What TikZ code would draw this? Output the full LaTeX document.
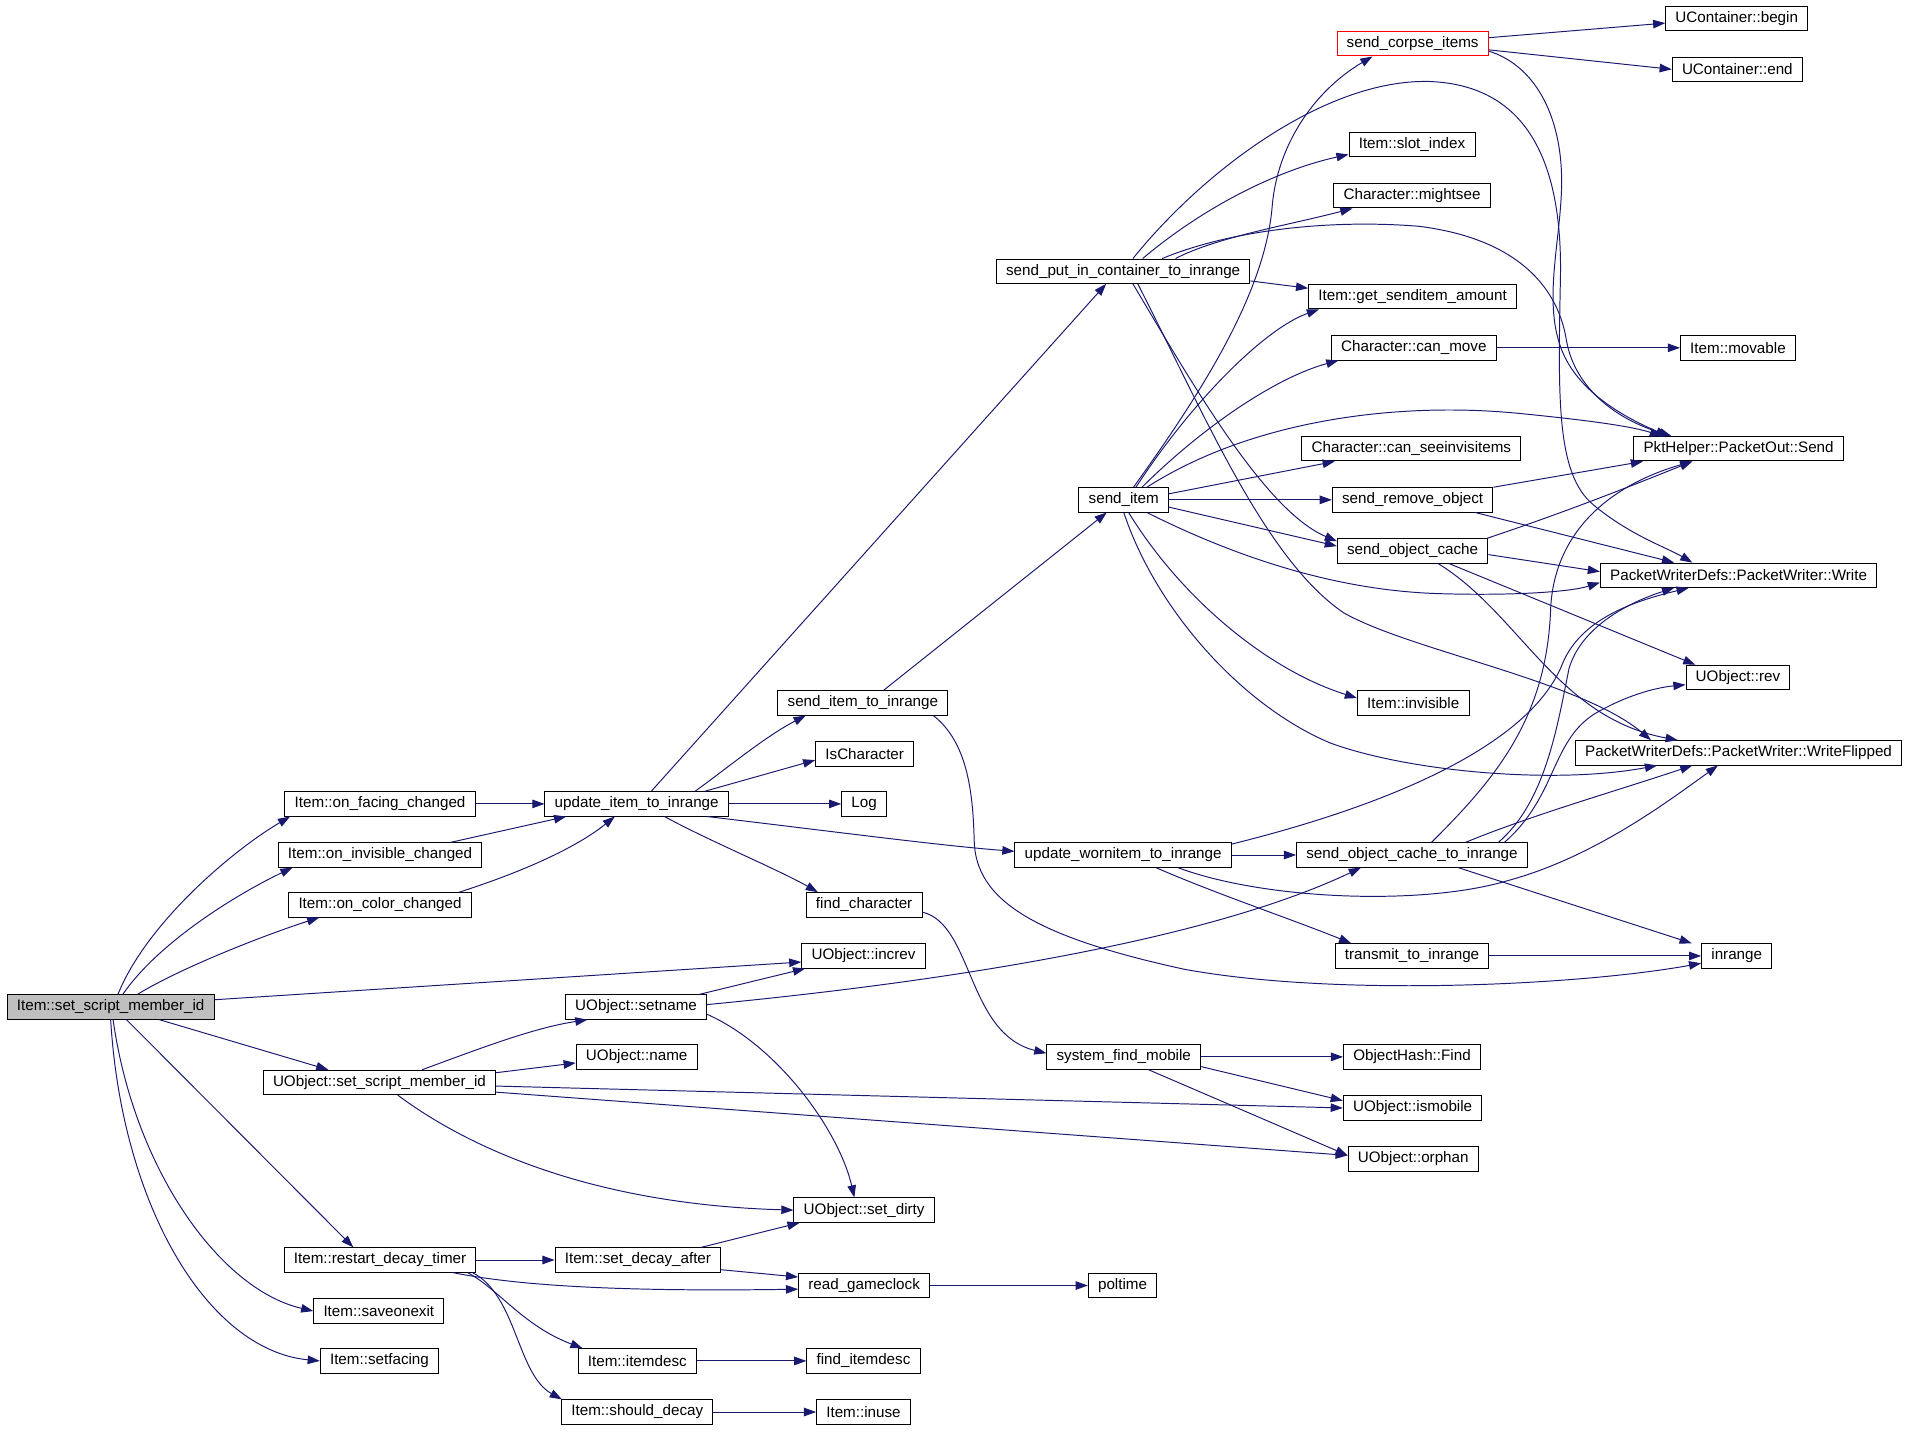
\documentclass[tikz,border=0pt]{standalone}
\usepackage{fontspec}
\setmainfont{Liberation Sans}
\usetikzlibrary{arrows.meta}
\definecolor{edgeblue}{HTML}{191970}
\tikzset{
  fn/.style={draw=black, fill=white, line width=0.8pt, minimum height=20pt,
    inner xsep=8pt, inner ysep=0pt, font=\fontsize{12.5}{14}\selectfont},
  call/.style={draw=edgeblue, line width=0.8pt, -{Triangle[length=10pt,width=7pt]}},
}
\begin{document}
\begin{tikzpicture}[x=1pt,y=-1pt]
\useasboundingbox[fill=white] (0,0) rectangle (1568,1177);
% column 1 and 2
\node[fn, fill=gray!50] (root) at (91,828) {Item::set\_script\_member\_id};
\node[fn] (onfacing) at (312.5,661) {Item::on\_facing\_changed};
\node[fn] (oninvis) at (312.5,703) {Item::on\_invisible\_changed};
\node[fn] (oncolor) at (312.5,744) {Item::on\_color\_changed};
\node[fn] (uossmi) at (312,890) {UObject::set\_script\_member\_id};
\node[fn] (restart) at (312.5,1036) {Item::restart\_decay\_timer};
\node[fn] (saveonexit) at (311.5,1078) {Item::saveonexit};
\node[fn] (setfacing) at (312,1119) {Item::setfacing};
% column 3
\node[fn] (upditem) at (523.5,661) {update\_item\_to\_inrange};
\node[fn] (setname) at (523,828) {UObject::setname};
\node[fn] (uname) at (523.5,869) {UObject::name};
\node[fn] (setdecay) at (524.5,1036) {Item::set\_decay\_after};
\node[fn] (itemdesc) at (524,1119) {Item::itemdesc};
\node[fn] (shoulddecay) at (524,1161) {Item::should\_decay};
% column 4
\node[fn] (senditr) at (709.5,578) {send\_item\_to\_inrange};
\node[fn] (ischar) at (711,620) {IsCharacter};
\node[fn] (log) at (710.5,661) {Log};
\node[fn] (findchar) at (710.5,744) {find\_character};
\node[fn] (increv) at (710,786) {UObject::increv};
\node[fn] (setdirty) at (710.5,995) {UObject::set\_dirty};
\node[fn] (readclock) at (710.5,1057) {read\_gameclock};
\node[fn] (finddesc) at (710,1119) {find\_itemdesc};
\node[fn] (inuse) at (710,1161) {Item::inuse};
% column 5
\node[fn] (putin) at (923.5,223) {send\_put\_in\_container\_to\_inrange};
\node[fn] (senditem) at (924,411) {send\_item};
\node[fn] (updworn) at (923.5,703) {update\_wornitem\_to\_inrange};
\node[fn] (sysfind) at (924,869) {system\_find\_mobile};
\node[fn] (poltime) at (923,1057) {poltime};
% column 6
\node[fn, draw=red] (corpse) at (1161.5,36) {send\_corpse\_items};
\node[fn] (slotidx) at (1161,119) {Item::slot\_index};
\node[fn] (mightsee) at (1161,161) {Character::mightsee};
\node[fn] (getamount) at (1161.5,244) {Item::get\_senditem\_amount};
\node[fn] (canmove) at (1162.5,286) {Character::can\_move};
\node[fn] (canseeinv) at (1160.5,369) {Character::can\_seeinvisitems};
\node[fn] (sendremove) at (1161.5,411) {send\_remove\_object};
\node[fn] (objcache) at (1161.5,453) {send\_object\_cache};
\node[fn] (invisible) at (1162,578) {Item::invisible};
\node[fn] (objcacheir) at (1161,703) {send\_object\_cache\_to\_inrange};
\node[fn] (transmit) at (1161,786) {transmit\_to\_inrange};
\node[fn] (ohfind) at (1161,869) {ObjectHash::Find};
\node[fn] (ismobile) at (1161.5,911) {UObject::ismobile};
\node[fn] (orphan) at (1162,953) {UObject::orphan};
% column 7
\node[fn] (cbegin) at (1428,15) {UContainer::begin};
\node[fn] (cend) at (1428.5,57) {UContainer::end};
\node[fn] (movable) at (1429,286) {Item::movable};
\node[fn] (pktsend) at (1429.5,369) {PktHelper::PacketOut::Send};
\node[fn] (pwwrite) at (1429.5,473) {PacketWriterDefs::PacketWriter::Write};
\node[fn] (urev) at (1429,557) {UObject::rev};
\node[fn] (pwflip) at (1429.5,619) {PacketWriterDefs::PacketWriter::WriteFlipped};
\node[fn] (inrange) at (1428,786) {inrange};

% calls of Item::set_script_member_id
\draw[call] ([xshift=6pt]root.north) .. controls (120,760) and (190,700) .. ([xshift=-74pt]onfacing.south);
\draw[call] ([xshift=10pt]root.north) .. controls (130,775) and (195,735) .. ([xshift=-72pt]oninvis.south);
\draw[call] ([xshift=22pt]root.north) .. controls (150,795) and (220,768) .. ([xshift=-50pt]oncolor.south);
\draw[call] ([yshift=6pt]root.east) -- ([yshift=-5pt]increv.west);
\draw[call] ([xshift=40pt]root.south) -- ([xshift=-42pt]uossmi.north);
\draw[call] ([xshift=13pt]root.south) -- ([xshift=-22pt]restart.north);
\draw[call] ([xshift=2pt]root.south) .. controls (110,960) and (180,1060) .. (saveonexit.west);
\draw[call] (root.south) .. controls (100,990) and (170,1110) .. (setfacing.west);

\draw[call] (onfacing) -- (upditem);
\draw[call] ([xshift=58pt]oninvis.north) -- ([xshift=-58pt]upditem.south);
\draw[call] ([xshift=65pt]oncolor.north) .. controls (420,720) and (470,700) .. ([xshift=-18pt]upditem.south);

% update_item_to_inrange
\draw[call] ([xshift=12pt]upditem.north) -- ([xshift=-14pt]putin.south);
\draw[call] ([xshift=48pt]upditem.north) .. controls (600,630) and (630,605) .. ([xshift=-47pt]senditr.south);
\draw[call] ([xshift=56pt]upditem.north) -- ([yshift=-5pt]ischar.west);
\draw[call] (upditem) -- (log);
\draw[call] ([xshift=58pt]upditem.south) .. controls (680,683) and (770,695) .. ([yshift=3pt]updworn.west);
\draw[call] ([xshift=23pt]upditem.south) .. controls (580,690) and (640,715) .. ([xshift=-38pt]findchar.north);

\draw[call] ([xshift=17pt]senditr.north) -- ([xshift=-14pt]senditem.south);
\draw[call] ([xshift=58pt]senditr.south) .. controls (795,610) and (800,650) .. (801,691)
  .. controls (802,740) and (850,770) .. (974,797)
  .. controls (1100,820) and (1300,810) .. ([yshift=-6pt]inrange.west);
\draw[call] ([yshift=-6pt]findchar.east) .. controls (800,760) and (795,850) .. ([yshift=3pt]sysfind.west);

% UObject calls
\draw[call] ([xshift=52pt]setname.north) -- ([xshift=-48pt]increv.south);
\draw[call] ([yshift=-6pt]setname.east) .. controls (640,860) and (690,930) .. ([xshift=-8pt]setdirty.north);
\draw[call] ([yshift=2pt]setname.east) .. controls (800,805) and (1000,770) .. ([xshift=-42pt]objcacheir.south);
\draw[call] ([xshift=35pt]uossmi.north) .. controls (400,860) and (440,845) .. ([xshift=-40pt]setname.south);
\draw[call] ([yshift=8pt]uossmi.east) -- ([yshift=-5pt]uname.west);
\draw[call] ([yshift=-3pt]uossmi.east) -- (ismobile.west);
\draw[call] ([yshift=-8pt]uossmi.east) -- ([yshift=3pt]orphan.west);
\draw[call] ([xshift=15pt]uossmi.south) .. controls (380,940) and (480,990) .. (setdirty.west);

% decay timer
\draw[call] (restart) -- (setdecay);
\draw[call] ([xshift=60pt]restart.south) .. controls (430,1058) and (520,1062) .. ([yshift=-3pt]readclock.west);
\draw[call] ([xshift=72pt]restart.south) .. controls (410,1060) and (430,1090) .. ([xshift=-45pt]itemdesc.north);
\draw[call] ([xshift=76pt]restart.south) .. controls (425,1065) and (425,1130) .. ([xshift=-62pt]shoulddecay.north);
\draw[call] ([xshift=52pt]setdecay.north) -- ([xshift=-53pt]setdirty.south);
\draw[call] ([yshift=-8pt]setdecay.east) -- ([yshift=7pt]readclock.west);
\draw[call] (readclock) -- (poltime);
\draw[call] (itemdesc) -- (finddesc);
\draw[call] (shoulddecay) -- (inuse);

\draw[call] (sysfind) -- (ohfind);
\draw[call] ([yshift=-8pt]sysfind.east) -- ([yshift=6pt]ismobile.west);
\draw[call] ([xshift=20pt]sysfind.south) -- ([yshift=3pt]orphan.west);

% update_wornitem_to_inrange
\draw[call] (updworn) -- (objcacheir);
\draw[call] ([xshift=27pt]updworn.south) .. controls (1000,735) and (1060,755) .. ([xshift=-50pt]transmit.north);
\draw[call] ([yshift=9pt]updworn.east) .. controls (1150,660) and (1260,610) .. (1285,545)
  .. controls (1300,510) and (1340,495) .. ([xshift=-41pt]pwwrite.south);
\draw[call] ([xshift=45pt]updworn.south) .. controls (1040,740) and (1170,745) .. (1240,724)
  .. controls (1310,705) and (1370,660) .. ([xshift=-17pt]pwflip.south);

% send_object_cache_to_inrange
\draw[call] ([xshift=16pt]objcacheir.north) .. controls (1230,640) and (1272,590) .. (1275,500)
  .. controls (1278,440) and (1320,400) .. ([xshift=-38pt]pktsend.south);
\draw[call] ([xshift=71pt]objcacheir.north) .. controls (1270,660) and (1280,600) .. (1290,550)
  .. controls (1300,515) and (1340,495) .. ([xshift=-53pt]pwwrite.south);
\draw[call] ([xshift=76pt]objcacheir.north) .. controls (1280,655) and (1275,610) .. (1311,587)
  .. controls (1340,570) and (1365,565) .. ([yshift=-6pt]urev.west);
\draw[call] ([xshift=44pt]objcacheir.north) .. controls (1260,670) and (1330,650) .. ([xshift=-38pt]pwflip.south);
\draw[call] ([xshift=38pt]objcacheir.south) -- ([xshift=-37pt]inrange.north);
\draw[call] (transmit) -- (inrange);

% send_put_in_container_to_inrange
\draw[call] ([xshift=8pt]putin.north) .. controls (990,140) and (1090,65) .. (1175,67)
  .. controls (1260,70) and (1285,140) .. (1283,230)
  .. controls (1281,330) and (1280,390) .. (1310,415)
  .. controls (1340,440) and (1370,450) .. ([xshift=-38pt]pwwrite.north);
\draw[call] ([xshift=16pt]putin.north) .. controls (990,170) and (1050,140) .. ([yshift=-8pt]slotidx.west);
\draw[call] ([xshift=43pt]putin.north) .. controls (1000,195) and (1060,185) .. ([xshift=-49pt]mightsee.south);
\draw[call] ([xshift=32pt]putin.north) .. controls (1010,190) and (1090,180) .. (1166,186)
  .. controls (1240,195) and (1280,230) .. (1288,280)
  .. controls (1295,320) and (1330,345) .. ([xshift=-55pt]pktsend.north);
\draw[call] ([yshift=-8pt]putin.east) -- ([yshift=7pt]getamount.west);
\draw[call] ([xshift=8pt]putin.south) .. controls (980,315) and (1040,420) .. ([yshift=8pt]objcache.west);
\draw[call] ([xshift=12pt]putin.south) .. controls (990,340) and (1040,460) .. (1105,504)
  .. controls (1160,535) and (1300,560) .. ([xshift=-72pt]pwflip.north);

% send_item
\draw[call] ([xshift=8pt]senditem.north) .. controls (990,320) and (1040,240) .. (1046,170)
  .. controls (1050,120) and (1080,75) .. ([xshift=-33pt]corpse.south);
\draw[call] ([xshift=10pt]senditem.north) .. controls (980,330) and (1040,270) .. ([xshift=-77pt]getamount.south);
\draw[call] ([xshift=15pt]senditem.north) .. controls (990,350) and (1050,310) .. ([xshift=-62pt]canmove.south);
\draw[call] ([xshift=19pt]senditem.north) .. controls (1030,345) and (1150,330) .. (1250,340)
  .. controls (1300,345) and (1340,350) .. ([xshift=-63pt]pktsend.north);
\draw[call] ([yshift=5pt]senditem.east) -- ([xshift=-63pt]canseeinv.south);
\draw[call] (senditem) -- (sendremove);
\draw[call] ([yshift=-6pt]senditem.east) -- ([yshift=4pt]objcache.west);
\draw[call] ([xshift=19pt]senditem.south) .. controls (1020,460) and (1100,485) .. (1180,488)
  .. controls (1240,490) and (1290,487) .. ([yshift=-6pt]pwwrite.west);
\draw[call] ([xshift=4pt]senditem.south) .. controls (970,490) and (1040,550) .. ([yshift=4pt]invisible.west);
\draw[call] (senditem.south) .. controls (950,500) and (1020,580) .. (1094,611)
  .. controls (1160,635) and (1280,645) .. ([xshift=-67pt]pwflip.south);

% leaves on the right
\draw[call] ([yshift=5pt]corpse.east) -- ([yshift=-4pt]cbegin.west);
\draw[call] ([yshift=-5pt]corpse.east) -- (cend.west);
\draw[call] ([yshift=-6pt]corpse.east) .. controls (1265,55) and (1285,100) .. (1284,153)
  .. controls (1283,200) and (1268,250) .. (1285,290)
  .. controls (1300,325) and (1340,345) .. ([xshift=-58pt]pktsend.north);
\draw[call] (canmove) -- (movable);
\draw[call] (sendremove.north east) -- ([xshift=8pt]pktsend.south west);
\draw[call] ([xshift=-15pt]sendremove.south east) -- ([xshift=-53pt]pwwrite.north);
\draw[call] ([xshift=-1pt]objcache.north east) .. controls (1290,420) and (1340,400) .. ([xshift=-38pt]pktsend.south);
\draw[call] ([yshift=-3pt]objcache.east) -- ([yshift=3pt]pwwrite.west);
\draw[call] ([xshift=30pt]objcache.south) -- ([xshift=-35pt]urev.north);
\draw[call] ([xshift=21pt]objcache.south) .. controls (1250,505) and (1280,590) .. ([xshift=-50pt]pwflip.north);
\end{tikzpicture}
\end{document}
